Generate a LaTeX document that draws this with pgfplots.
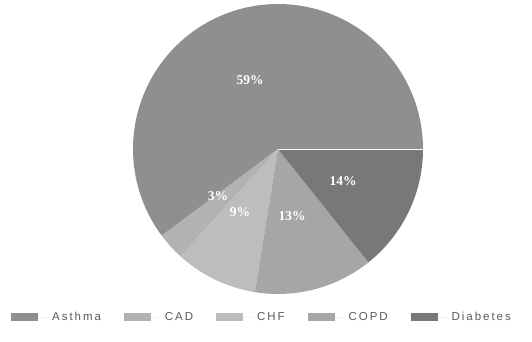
\documentclass[border=0pt]{standalone}
\usepackage{pgfplots}
\pgfplotsset{compat=1.18}
\usepackage{fontspec}
\setmainfont{Liberation Sans}
\newfontfamily\labelfont{Liberation Serif}
\definecolor{cAsthma}{gray}{0.56}
\definecolor{cCAD}{gray}{0.70}
\definecolor{cCHF}{gray}{0.74}
\definecolor{cCOPD}{gray}{0.65}
\definecolor{cDiab}{gray}{0.47}
\def\R{145}
\def\S{3.673469}% 360 / (59+3+9+13+14)
\begin{document}
\begin{tikzpicture}
\begin{axis}[
  width=532bp, height=342bp, scale only axis,
  xmin=-278, xmax=254, ymin=-193, ymax=149,
  hide axis, clip=false,
  legend columns=5,
  legend style={draw=none, fill=none, at={(axis cs:-267,-168)}, anchor=west,
    font=\fontsize{11.5bp}{13bp}\selectfont\addfontfeature{LetterSpace=17},
    text=black!65, inner sep=0pt,
    /tikz/every even column/.append style={column sep=21bp}},
  legend image code/.code={\fill[#1] (0bp,-3.5bp) rectangle (27bp,3.5bp);
     \path (0bp,0bp) -- (39bp,0bp);},
]
\path (rel axis cs:0,0) rectangle (rel axis cs:1,1);
\addplot[fill=cAsthma, draw=none, domain=0:59*\S, samples=120, variable=\t]
  ({\R*cos(t)},{\R*sin(t)}) -- (axis cs:0,0) -- cycle;
\addlegendentry{Asthma}
\addplot[fill=cCAD, draw=none, domain=59*\S:62*\S, samples=12, variable=\t]
  ({\R*cos(t)},{\R*sin(t)}) -- (axis cs:0,0) -- cycle;
\addlegendentry{CAD}
\addplot[fill=cCHF, draw=none, domain=62*\S:71*\S, samples=25, variable=\t]
  ({\R*cos(t)},{\R*sin(t)}) -- (axis cs:0,0) -- cycle;
\addlegendentry{CHF}
\addplot[fill=cCOPD, draw=none, domain=71*\S:84*\S, samples=35, variable=\t]
  ({\R*cos(t)},{\R*sin(t)}) -- (axis cs:0,0) -- cycle;
\addlegendentry{COPD}
\addplot[fill=cDiab, draw=none, domain=84*\S:98*\S, samples=35, variable=\t]
  ({\R*cos(t)},{\R*sin(t)}) -- (axis cs:0,0) -- cycle;
\addlegendentry{Diabetes}
\draw[white, line width=0.8bp] (axis cs:0,0) -- (axis cs:\R,0);
\begin{scope}[every node/.style={text=white, font=\fontsize{13.5bp}{15bp}\labelfont\bfseries}]
\node at (axis cs:-28,69) {59\%};
\node at (axis cs:65,-32) {14\%};
\node at (axis cs:14,-67) {13\%};
\node at (axis cs:-38,-63) {9\%};
\node at (axis cs:-60,-47) {3\%};
\end{scope}
\end{axis}
\end{tikzpicture}
\end{document}
